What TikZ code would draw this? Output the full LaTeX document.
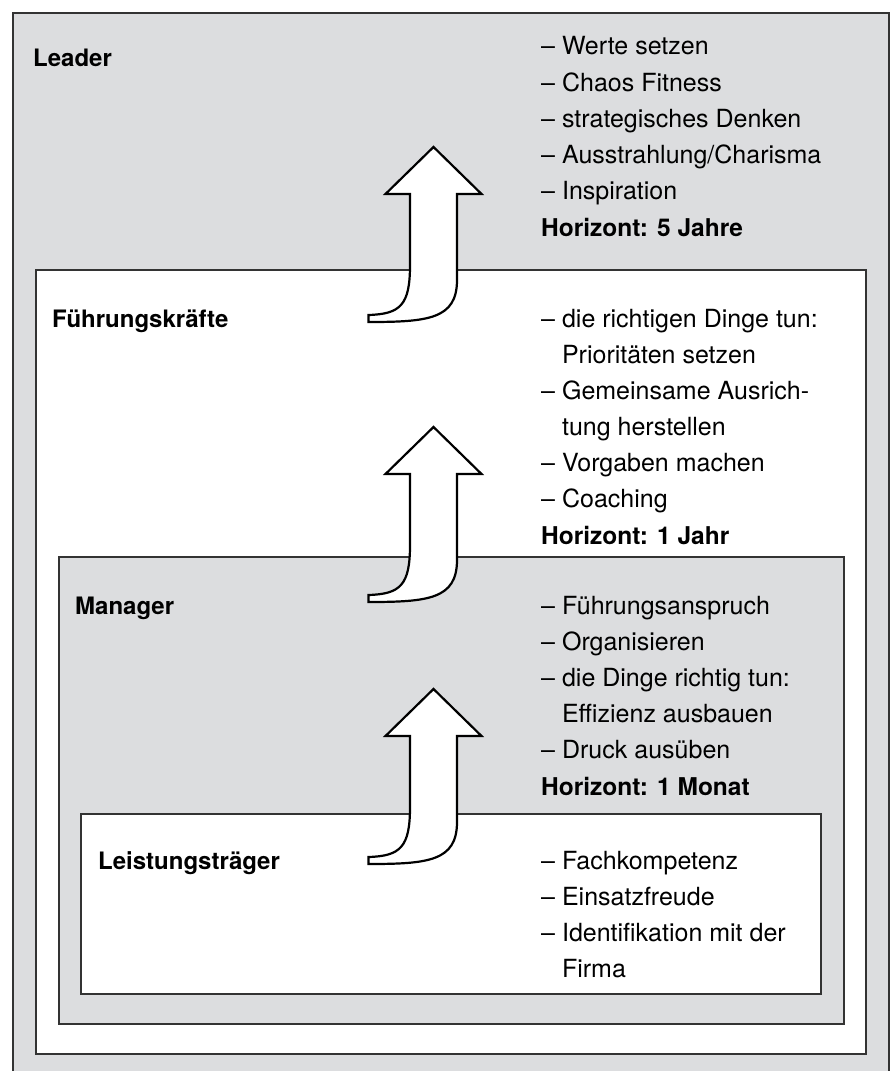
\documentclass[tikz,border=0pt]{standalone}
\usepackage{fontspec}
\setmainfont{TeX Gyre Heros}
\definecolor{panelgray}{HTML}{DCDDDF}
\definecolor{edgegray}{HTML}{333333}
\begin{document}
\begin{tikzpicture}[x=1pt,y=-1pt,
  panel/.style={draw=edgegray, line width=1.5pt, anchor=north west, inner sep=0pt},
  graypanel/.style={panel, fill=panelgray},
  whitepanel/.style={panel, fill=white},
  lvl/.style={anchor=base west, inner sep=0pt, font=\fontsize{24}{28}\selectfont\bfseries},
  item/.style={anchor=base west, inner sep=0pt, font=\fontsize{25}{29}\selectfont},
  horiz/.style={anchor=base west, inner sep=0pt, font=\fontsize{24.5}{28}\selectfont\bfseries},
  bigarrow/.style={draw=black, fill=white, line width=2.2pt, line join=miter},
  pics/uparrow/.style={code={
    \draw[bigarrow] (0,0) -- (48,47) -- (23.5,47) -- (23.5,133)
      .. controls (23.5,172) and (-5,175) .. (-65,175) -- (-65,168)
      .. controls (-33,167) and (-23.5,158) .. (-23.5,118) -- (-23.5,47)
      -- (-48,47) -- cycle;
  }}]
\useasboundingbox (0,0) rectangle (891,1071);
\clip (0,0) rectangle (891,1071);
% panels
\node[graypanel, minimum width=876pt, minimum height=1090pt] (leaderbox) at (12,12) {};
\node[whitepanel, minimum width=830pt, minimum height=784pt] (fkbox) at (35,269) {};
\node[graypanel, minimum width=785pt, minimum height=467pt] (mgrbox) at (58,556) {};
\node[whitepanel, minimum width=740pt, minimum height=180pt] (lsbox) at (80,813) {};
% arrows
\pic at (433.5,147) {uparrow};
\pic at (433.5,427) {uparrow};
\pic at (433.5,689) {uparrow};
% level labels
\node[lvl] (leader) at (33,66) {Leader};
\node[lvl] (fk) at (52,327) {Führungskräfte};
\node[lvl] (mgr) at (75,614) {Manager};
\node[lvl] (ls) at (98,869) {Leistungsträger};
% Leader block
\node[item] (l1) at (541,54) {– Werte setzen};
\node[item] (l2) at (541,91) {– Chaos Fitness};
\node[item] (l3) at (541,127) {– strategisches Denken};
\node[item] (l4) at (541,163) {– Ausstrahlung/Charisma};
\node[item] (l5) at (541,199) {– Inspiration};
\node[horiz] (lh) at (541,236) {Horizont: 5 Jahre};
% Fuehrungskraefte block
\node[item] (f1) at (541,327) {– die richtigen Dinge tun:};
\node[item] (f2) at (541,363) {\phantom{– }Prioritäten setzen};
\node[item] (f3) at (541,399) {– Gemeinsame Ausrich-};
\node[item] (f4) at (541,435) {\phantom{– }tung herstellen};
\node[item] (f5) at (541,471) {– Vorgaben machen};
\node[item] (f6) at (541,507) {– Coaching};
\node[horiz] (fh) at (541,544) {Horizont: 1 Jahr};
% Manager block
\node[item] (m1) at (541,614) {– Führungsanspruch};
\node[item] (m2) at (541,650) {– Organisieren};
\node[item] (m3) at (541,686) {– die Dinge richtig tun:};
\node[item] (m4) at (541,722) {\phantom{– }Effizienz ausbauen};
\node[item] (m5) at (541,758) {– Druck ausüben};
\node[horiz] (mh) at (541,795) {Horizont: 1 Monat};
% Leistungstraeger block
\node[item] (s1) at (541,869) {– Fachkompetenz};
\node[item] (s2) at (541,905) {– Einsatzfreude};
\node[item] (s3) at (541,941) {– Identifikation mit der};
\node[item] (s4) at (541,977) {\phantom{– }Firma};
\end{tikzpicture}
\end{document}
